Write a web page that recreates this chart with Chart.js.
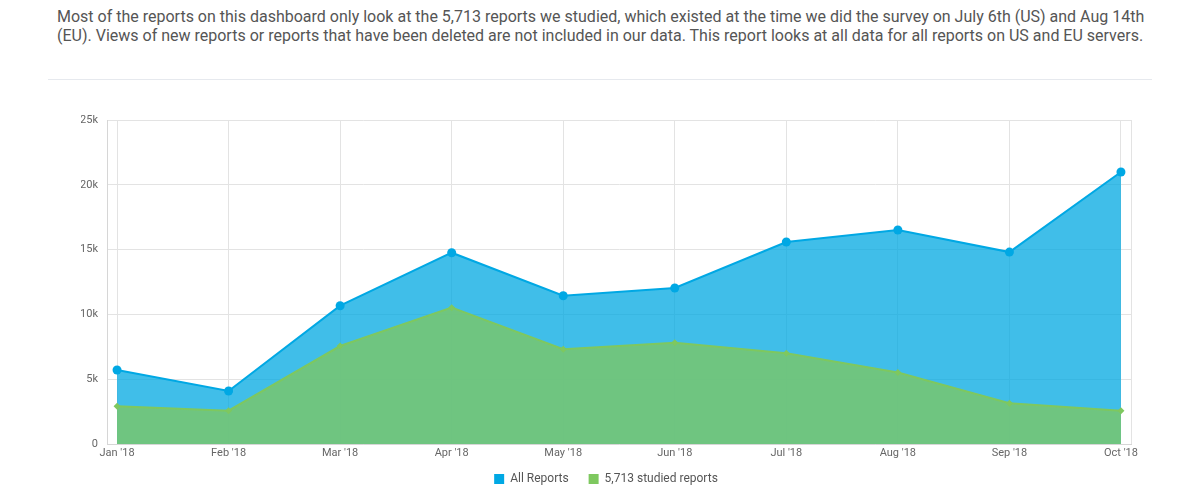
<!DOCTYPE html>
<html>
<head>
<meta charset="utf-8">
<script src="https://cdn.jsdelivr.net/npm/chart.js@4.4.0/dist/chart.umd.min.js"></script>
<style>
  body { margin: 0; background: #fff; width: 1200px; height: 500px; position: relative; overflow: hidden; font-family: Roboto, sans-serif; }
  #intro { position: absolute; left: 57px; top: 7px; margin: 0; font-size: 16px; line-height: 19px; color: #555; }
  #rule { position: absolute; left: 48px; top: 79px; width: 1104px; height: 1px; background: #e6e9ee; }
  #wrap { position: absolute; left: 0; top: 100px; width: 1200px; height: 413px; }
</style>
</head>
<body>
<p id="intro">Most of the reports on this dashboard only look at the 5,713 reports we studied, which existed at the time we did the survey on July 6th (US) and Aug 14th<br>(EU). Views of new reports or reports that have been deleted are not included in our data. This report looks at all data for all reports on US and EU servers.</p>
<div id="rule"></div>
<div id="wrap"><canvas id="myChart" width="1200" height="413"></canvas></div>
<script>
'use strict'
// months on the x axis
let months = ["Jan '18", "Feb '18", "Mar '18", "Apr '18", "May '18", "Jun '18", "Jul '18", "Aug '18", "Sep '18", "Oct '18"];
// views per month
let allReports = [5710, 4090, 10670, 14760, 11440, 12040, 15590, 16510, 14810, 20990];
let studiedReports = [2910, 2570, 7560, 10520, 7310, 7820, 7000, 5520, 3140, 2570];
let yTicks = [0, 5000, 10000, 15000, 20000, 25000];

let points = function (arr) {
    return arr.map(function (v, i) { return { x: i, y: v }; });
};

// pull the legend up a bit closer to the axis
let legendNudge = {
    id: 'legendNudge',
    afterLayout: function (chart) {
        chart.legend.top -= 13;
        chart.legend.bottom -= 13;
    }
};

let ctx = document.getElementById('myChart').getContext('2d');
let myChart = new Chart(ctx, {
    type: 'line',
    data: {
        datasets: [{
            label: 'All Reports',
            data: points(allReports),
            order: 1,
            borderColor: '#00a8e4',
            backgroundColor: 'rgba(0,168,226,0.75)',
            borderWidth: 2,
            fill: 'origin',
            tension: 0,
            pointRadius: 4.5,
            pointBackgroundColor: '#00a8e4',
            pointBorderWidth: 0
        },
        {
            label: '5,713 studied reports',
            data: points(studiedReports),
            order: 0,
            borderColor: '#7ec85f',
            backgroundColor: 'rgba(120,199,110,0.85)',
            borderWidth: 2,
            fill: 'origin',
            tension: 0,
            pointStyle: 'rectRot',
            pointRadius: 3.5,
            pointBackgroundColor: '#7ec85f',
            pointBorderWidth: 0
        }]
    },
    plugins: [legendNudge],
    options: {
        animation: false,
        responsive: false,
        layout: { padding: { left: 81, top: 20, right: 69, bottom: 5 } },
        plugins: {
            tooltip: { enabled: false },
            legend: {
                position: 'bottom',
                labels: {
                    boxWidth: 10,
                    boxHeight: 10,
                    padding: 20,
                    color: '#555',
                    font: { family: 'Roboto', size: 12 },
                    generateLabels: function (chart) {
                        return chart.data.datasets.map(function (ds, i) {
                            return { text: ds.label, fillStyle: ds.borderColor, strokeStyle: ds.borderColor, lineWidth: 0, datasetIndex: i, fontColor: '#555' };
                        });
                    }
                }
            }
        },
        scales: {
            x: {
                type: 'linear',
                min: -0.09,
                max: 9.09,
                afterBuildTicks: function (s) {
                    s.ticks = [-0.09].concat(months.map(function (m, i) { return i; })).concat([9.09]).map(function (v) { return { value: v }; });
                },
                afterFit: function (s) { s.height = 22; },
                grid: { color: '#e3e3e3', drawTicks: false },
                border: { color: '#d6d6d6' },
                ticks: {
                    padding: 3,
                    color: '#666',
                    font: { family: 'Roboto', size: 11 },
                    maxRotation: 0,
                    autoSkip: false,
                    callback: function (v) { return Number.isInteger(v) ? months[v] : ''; }
                }
            },
            y: {
                min: 0,
                max: 25000,
                afterBuildTicks: function (s) {
                    s.ticks = yTicks.map(function (v) { return { value: v }; });
                },
                afterFit: function (s) { s.width = 26; },
                grid: { color: '#e3e3e3', drawTicks: false },
                border: { color: '#d6d6d6' },
                ticks: {
                    padding: 9,
                    color: '#666',
                    font: { family: 'Roboto', size: 11 },
                    callback: function (v) { return v === 0 ? '0' : (v / 1000) + 'k'; }
                }
            }
        }
    }
});
</script>
</body>
</html>
